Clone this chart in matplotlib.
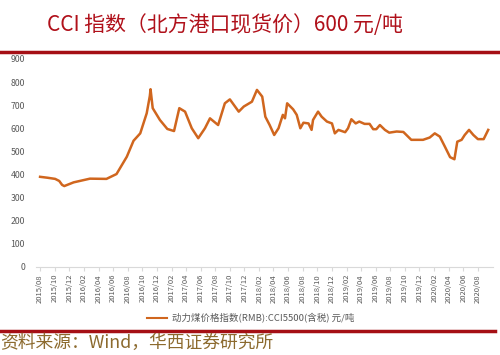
import matplotlib
matplotlib.use('Agg')
import matplotlib.pyplot as plt
import pandas as pd
from matplotlib.lines import Line2D

plt.rcParams['font.family'] = ['Noto Sans CJK SC', 'DejaVu Sans']

# CCI5500 动力煤价格
dates = ['2015-08-01', '2015-09-01', '2015-10-03', '2015-10-20', '2015-11-01', '2015-11-10',
         '2015-12-19', '2016-02-25', '2016-05-04', '2016-06-15', '2016-07-28', '2016-08-25',
         '2016-09-22', '2016-10-19', '2016-11-01', '2016-11-04', '2016-11-13', '2016-12-13',
         '2017-01-13', '2017-02-10', '2017-03-04', '2017-03-28', '2017-04-25', '2017-05-22',
         '2017-06-19', '2017-07-10', '2017-08-13', '2017-09-10', '2017-10-01', '2017-11-07',
         '2017-11-28', '2018-01-01', '2018-01-22', '2018-02-13', '2018-02-26', '2018-03-16',
         '2018-04-04', '2018-04-22', '2018-05-10', '2018-05-19', '2018-05-28', '2018-06-22',
         '2018-07-07', '2018-07-22', '2018-08-04', '2018-08-25', '2018-09-07', '2018-09-13',
         '2018-10-04', '2018-10-19', '2018-11-10', '2018-12-01', '2018-12-13', '2018-12-28',
         '2019-01-25', '2019-02-06', '2019-02-20', '2019-03-10', '2019-03-25', '2019-04-16',
         '2019-05-07', '2019-05-22', '2019-06-04', '2019-06-19', '2019-07-10', '2019-07-28',
         '2019-08-28', '2019-09-25', '2019-10-28', '2019-12-16', '2020-01-13', '2020-02-03',
         '2020-02-24', '2020-03-16', '2020-04-07', '2020-04-25', '2020-05-07', '2020-05-25',
         '2020-06-07', '2020-06-25', '2020-07-13', '2020-08-01', '2020-08-25', '2020-09-13']
values = [390, 386, 381, 372, 355, 350,
          366, 382, 381, 402, 477, 546,
          578, 665, 740, 769, 687, 636,
          597, 588, 687, 672, 600, 557,
          600, 643, 614, 708, 725, 672,
          694, 715, 766, 737, 650, 614,
          571, 600, 658, 643, 708, 682,
          658, 600, 624, 621, 593, 636,
          672, 650, 629, 621, 578, 593,
          583, 600, 639, 621, 629, 619,
          619, 596, 596, 614, 593, 581,
          586, 584, 550, 550, 560, 578,
          564, 521, 475, 466, 542, 550,
          571, 593, 571, 553, 553, 593]

tick_dates = pd.date_range('2015-08-01', '2020-08-01', freq='2MS')
tick_labels = [d.strftime('%Y/%m') for d in tick_dates]

x = pd.to_datetime(dates)

fig = plt.figure(figsize=(5, 3.55), dpi=100)
ax = fig.add_axes([0.072, 0.248, 0.914, 0.586])
ax.plot(x, values, color='#D0661E', linewidth=1.8)

ax.set_ylim(0, 900)
ax.set_yticks(range(0, 901, 100))
ax.set_xlim(pd.Timestamp('2015-07-15'), pd.Timestamp('2020-10-03'))
ax.set_xticks(tick_dates)
ax.set_xticklabels(tick_labels, rotation=90, fontsize=5.5, color='#595959')
ax.tick_params(axis='y', length=0, labelsize=6.3, labelcolor='#595959', pad=8)
ax.tick_params(axis='x', length=3, color='#D9D9D9', pad=2)
for s in ['top', 'right', 'left']:
    ax.spines[s].set_visible(False)
ax.spines['bottom'].set_color('#D9D9D9')

# 标题
fig.text(0.094, 0.93, 'CCI 指数（北方港口现货价）600 元/吨', fontsize=15,
         color='#B0101A', va='center', ha='left')
fig.add_artist(Line2D([0, 1], [0.853, 0.853], color='#A50F15', linewidth=2.5))

# 图例
fig.add_artist(Line2D([0.294, 0.334], [0.104, 0.104], color='#D0661E', linewidth=1.5))
fig.text(0.344, 0.104, '动力煤价格指数(RMB):CCI5500(含税) 元/吨', fontsize=6.8,
         color='#595959', va='center', ha='left')

# 底部
fig.add_artist(Line2D([0, 0.99], [0.067, 0.067], color='#A50F15', linewidth=2.5))
fig.text(0.0, 0.033, '资料来源：Wind，华西证券研究所', fontsize=12.8,
         color='#8C6A2E', va='center', ha='left')

fig.savefig('out.png', dpi=100)
